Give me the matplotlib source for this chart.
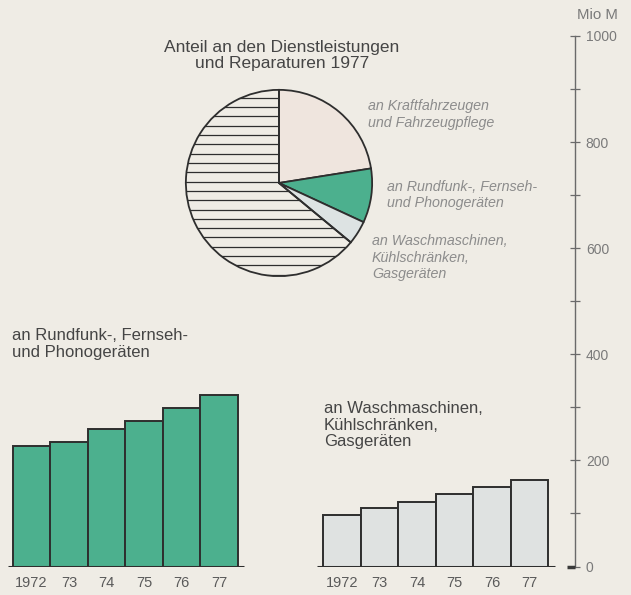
import numpy as np
import matplotlib
matplotlib.use("Agg")
import matplotlib.pyplot as plt

# ---- data ----
years = ["1972", "73", "74", "75", "76", "77"]
rundfunk = [228, 235, 259, 274, 298, 323]          # Mio M
wasch = [97, 111, 122, 136, 150, 163]              # Mio M
pie_labels = ["an Kraftfahrzeugen\nund Fahrzeugpflege",
              "an Rundfunk-, Fernseh-\nund Phonogeräten",
              "an Waschmaschinen,\nKühlschränken,\nGasgeräten",
              ""]
pie_shares = [22.5, 9.4, 4.1, 64.0]
yticks_major = [0, 200, 400, 600, 800, 1000]
yticks_minor = [100, 300, 500, 700, 900]

# ---- style ----
W, H = 631, 595
BG = "#efece5"
GREEN = "#4cb08e"
GRAYBAR = "#dfe2e1"
PINK = "#efe5de"
LIGHTSLICE = "#dde3e3"
EDGE = "#2e2e2e"
TXT = "#454545"
LTXT = "#8c8c8c"
plt.rcParams["font.family"] = ["Liberation Sans", "DejaVu Sans"]

fig = plt.figure(figsize=(W / 100, H / 100), dpi=100, facecolor=BG)

def fx(px):
    return px / W

def fy(py):
    return 1 - py / H

# ---- main axes (bars + scale) ----
y0_px, y1000_px, axis_x_px = 566.5, 36.0, 575.0
ax = fig.add_axes([0, fy(y0_px), fx(axis_x_px), (y0_px - y1000_px) / H])
ax.set_facecolor("none")
ax.set_xlim(0, axis_x_px)
ax.set_ylim(0, 1000)

bw = 37.5
g_start, w_start = 12.7, 323.3
g_pos = g_start + bw * np.arange(len(years))
w_pos = w_start + bw * np.arange(len(years))

ax.bar(g_pos, rundfunk, width=bw, align="edge", color=GREEN,
       edgecolor=EDGE, linewidth=1.4, zorder=3)
ax.bar(w_pos, wasch, width=bw, align="edge", color=GRAYBAR,
       edgecolor=EDGE, linewidth=1.4, zorder=3)
ax.hlines(0, g_pos[0] - 5, g_pos[-1] + bw + 6, color=EDGE, lw=2.2, zorder=4)
ax.hlines(0, w_pos[0] - 6, w_pos[-1] + bw + 7, color=EDGE, lw=2.2, zorder=4)

centers = np.concatenate([g_pos + bw / 2, w_pos + bw / 2])
ax.set_xticks(centers)
ax.set_xticklabels(years + years, fontsize=10.5, color="#5a5a5a")
ax.tick_params(axis="x", length=0, pad=7)

for s in ["left", "top", "bottom"]:
    ax.spines[s].set_visible(False)
ax.spines["right"].set_color("#6a6a6a")
ax.spines["right"].set_linewidth(1.0)
ax.yaxis.tick_right()
ax.set_yticks(yticks_major)
ax.set_yticks(yticks_minor, minor=True)
ax.set_yticklabels([str(v) for v in yticks_major], fontsize=10, color="#7a7a7a")
ax.tick_params(axis="y", which="both", direction="inout", length=7.5,
               width=0.9, color="#6a6a6a", pad=4)
ax.hlines(0, axis_x_px - 8, axis_x_px, color="#3a3a3a", lw=2.5, zorder=5,
          clip_on=False)

fig.text(fx(618), fy(15), "Mio M", ha="right", va="center", fontsize=10.8,
         color="#7a7a7a")

# ---- titles / labels ----
fig.text(fx(282), fy(55.5), "Anteil an den Dienstleistungen\nund Reparaturen 1977",
         ha="center", va="center", fontsize=12.5, color=TXT, linespacing=1.1)
fig.text(fx(12), fy(344), "an Rundfunk-, Fernseh-\nund Phonogeräten",
         ha="left", va="center", fontsize=12, color=TXT, linespacing=1.15)
fig.text(fx(324), fy(425), "an Waschmaschinen,\nKühlschränken,\nGasgeräten",
         ha="left", va="center", fontsize=12, color=TXT, linespacing=1.15)

# ---- pie ----
cx, cy, r = 279, 183, 95
pax = fig.add_axes([fx(cx - r), fy(cy + r), 2 * r / W, 2 * r / H])
pax.set_facecolor("none")
wedges, _ = pax.pie(pie_shares, colors=[PINK, GREEN, LIGHTSLICE, BG],
                    startangle=90, counterclock=False,
                    wedgeprops=dict(edgecolor=EDGE, linewidth=1.3))
pax.set_xlim(-1.02, 1.02)
pax.set_ylim(-1.02, 1.02)
for w in wedges:
    w.set_zorder(2)
# horizontal hatching of the remaining share
hy = np.arange(-0.985, 0.95, 0.1)
hl = pax.hlines(hy, -1.05, 1.05, color=EDGE, lw=0.9, zorder=1)
hl.set_clip_path(wedges[-1])
wedges[-1].set_facecolor("none")
wedges[-1].set_zorder(3)

label_pos = [(368, 114.5), (387, 195), (372, 257.5)]
for (lx, ly), txt in zip(label_pos, pie_labels[:3]):
    fig.text(fx(lx), fy(ly), txt, ha="left", va="center", fontsize=10.3,
             style="italic", color=LTXT, linespacing=1.2)

fig.savefig("out.png", dpi=100, facecolor=BG)
